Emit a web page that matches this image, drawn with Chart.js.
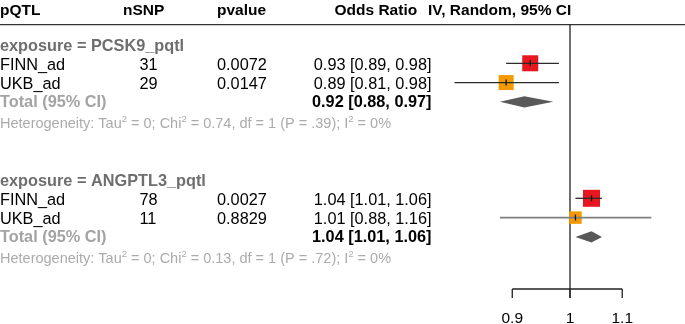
<!DOCTYPE html>
<html><head><meta charset="utf-8">
<script src="https://cdn.jsdelivr.net/npm/chart.js@4/dist/chart.umd.min.js"></script>
<style>html,body{margin:0;padding:0;background:#fff;overflow:hidden}canvas{display:block}</style>
</head><body>
<canvas id="c" width="685" height="324"></canvas>
<script>
// ---------- data ----------
const headers = ["pQTL", "nSNP", "pvalue", "Odds Ratio", "IV, Random, 95% CI"];
const groups = ["exposure = PCSK9_pqtl", "exposure = ANGPTL3_pqtl"];
const studies = ["FINN_ad", "UKB_ad", "FINN_ad", "UKB_ad"];
const studyGroup = [0, 0, 1, 1];
const nSNP = [31, 29, 78, 11];
const pvalues = ["0.0072", "0.0147", "0.0027", "0.8829"];
const orEst = [0.93, 0.89, 1.04, 1.01];
const orLow = [0.89, 0.81, 1.01, 0.88];
const orHigh = [0.98, 0.98, 1.06, 1.16];
const pooledEst = [0.92, 1.04];
const pooledLow = [0.88, 1.01];
const pooledHigh = [0.97, 1.06];
const hetTau2 = ["0", "0"];
const hetChi2 = ["0.74", "0.13"];
const hetDf = ["1", "1"];
const hetP = [".39", ".72"];
const hetI2 = ["0%", "0%"];
const tickValues = [0.9, 1, 1.1];
const tickLabels = ["0.9", "1", "1.1"];
const totalLabel = "Total (95% CI)";

// ---------- styles / layout ----------
const W = 685, H = 324;
const X_AT_ONE = 570, PX_PER_LN = 548;
const ROW_TOP = 24.7, ROW_STEP = 19.29;
const AXIS_Y = 289, TICK_LEN = 9;
const FONT = '"Liberation Sans", Arial, Helvetica, sans-serif';
const FS_HEAD = 15.5, FS = 16.3, FS_HET = 14.5, FS_SUP = 9.5;
const boxSides = [16, 15, 17, 12.5];
const boxColors = ["#E8161E", "#F49A00", "#E8161E", "#F49A00"];
const ciColors = ["#2b2b2b", "#2b2b2b", "#2b2b2b", "#7f7f7f"];
const ciWidths = [1.3, 1.3, 1.3, 1.8];
const DIAMOND_HALF = 5.6;

const xMin = Math.exp(-X_AT_ONE / PX_PER_LN);
const xMax = Math.exp((W - X_AT_ONE) / PX_PER_LN);
const yMin = -ROW_TOP / ROW_STEP;
const yMax = (H - ROW_TOP) / ROW_STEP;

const groupRow = g => 1 + 7 * g;
const studyRows = studies.map((s, i) => {
  const g = studyGroup[i];
  let k = 0;
  for (let j = 0; j < i; j++) if (studyGroup[j] === g) k++;
  return groupRow(g) + 1 + k;
});
const totalRow = g => groupRow(g) + 3;
const hetRow = g => groupRow(g) + 4;

const colX = { pqtl: 0, nsnpH: 123, nsnp: 139.5, pv: 217, orH: 334.5, orR: 431.5, ivH: 428 };

function drawRuns(ctx, x, y, runs, color) {
  ctx.fillStyle = color;
  ctx.textAlign = 'left';
  ctx.textBaseline = 'alphabetic';
  for (const [t, sup] of runs) {
    ctx.font = (sup ? FS_SUP : FS_HET) + 'px ' + FONT;
    ctx.fillText(t, x, sup ? y - 5.5 : y);
    x += ctx.measureText(t).width;
  }
}

const forestPlugin = {
  id: 'forest',
  beforeDatasetsDraw(chart) {
    const ctx = chart.ctx, xs = chart.scales.x, ys = chart.scales.y;
    const rowY = r => ys.getPixelForValue(r);
    const x1 = xs.getPixelForValue(1);
    ctx.save();
    // header line
    ctx.strokeStyle = '#333'; ctx.lineWidth = 1.3;
    ctx.beginPath(); ctx.moveTo(0, ROW_TOP); ctx.lineTo(W, ROW_TOP); ctx.stroke();
    // reference line at 1
    ctx.strokeStyle = '#222';
    ctx.beginPath(); ctx.moveTo(x1, ROW_TOP); ctx.lineTo(x1, AXIS_Y + TICK_LEN); ctx.stroke();
    // bottom axis
    const xa = xs.getPixelForValue(tickValues[0]);
    const xb = xs.getPixelForValue(tickValues[tickValues.length - 1]);
    ctx.beginPath(); ctx.moveTo(xa, AXIS_Y); ctx.lineTo(xb, AXIS_Y); ctx.stroke();
    ctx.font = FS_HEAD + 'px ' + FONT; ctx.fillStyle = '#000';
    ctx.textAlign = 'center'; ctx.textBaseline = 'alphabetic';
    tickValues.forEach((v, i) => {
      const px = xs.getPixelForValue(v);
      ctx.beginPath(); ctx.moveTo(px, AXIS_Y); ctx.lineTo(px, AXIS_Y + TICK_LEN); ctx.stroke();
      ctx.fillText(tickLabels[i], px, 322.5);
    });
    // diamonds
    ctx.fillStyle = '#595959';
    groups.forEach((g, gi) => {
      const y = rowY(totalRow(gi));
      const l = xs.getPixelForValue(pooledLow[gi]);
      const m = xs.getPixelForValue(pooledEst[gi]);
      const r = xs.getPixelForValue(pooledHigh[gi]);
      ctx.beginPath();
      ctx.moveTo(l, y); ctx.lineTo(m, y - DIAMOND_HALF); ctx.lineTo(r, y); ctx.lineTo(m, y + DIAMOND_HALF);
      ctx.closePath(); ctx.fill();
    });
    // text
    ctx.textBaseline = 'alphabetic';
    ctx.font = 'bold ' + FS_HEAD + 'px ' + FONT; ctx.fillStyle = '#000'; ctx.textAlign = 'left';
    const hx = [colX.pqtl, colX.nsnpH, colX.pv, colX.orH, colX.ivH];
    headers.forEach((h, i) => ctx.fillText(h, hx[i], 15));
    const off = 6.6;
    groups.forEach((g, gi) => {
      ctx.font = 'bold ' + FS + 'px ' + FONT; ctx.fillStyle = '#6e6e6e'; ctx.textAlign = 'left';
      ctx.fillText(g, 0, rowY(groupRow(gi)) + off);
      ctx.fillStyle = '#a3a3a3';
      ctx.fillText(totalLabel, 0, rowY(totalRow(gi)) + off - 1);
      ctx.fillStyle = '#000'; ctx.textAlign = 'right';
      ctx.fillText(pooledEst[gi].toFixed(2) + ' [' + pooledLow[gi].toFixed(2) + ', ' + pooledHigh[gi].toFixed(2) + ']', colX.orR, rowY(totalRow(gi)) + off - 1);
      drawRuns(ctx, 0, rowY(hetRow(gi)) + off, [
        ['Heterogeneity: Tau', 0], ['2', 1], [' = ' + hetTau2[gi] + '; Chi', 0], ['2', 1],
        [' = ' + hetChi2[gi] + ', df = ' + hetDf[gi] + ' (P = ' + hetP[gi] + '); I', 0], ['2', 1],
        [' = ' + hetI2[gi], 0]
      ], '#ababab');
    });
    ctx.font = FS + 'px ' + FONT; ctx.fillStyle = '#000';
    studies.forEach((s, i) => {
      const y = rowY(studyRows[i]) + off;
      ctx.textAlign = 'left';
      ctx.fillText(s, colX.pqtl, y);
      ctx.fillText(String(nSNP[i]), colX.nsnp, y);
      ctx.fillText(pvalues[i], colX.pv, y);
      ctx.textAlign = 'right';
      ctx.fillText(orEst[i].toFixed(2) + ' [' + orLow[i].toFixed(2) + ', ' + orHigh[i].toFixed(2) + ']', colX.orR, y);
    });
    ctx.restore();
  }
};

const datasets = [
  { // estimate ticks (drawn on top)
    data: studies.map((s, i) => ({ x: orEst[i], y: studyRows[i] })),
    pointStyle: 'line', pointRotation: 90, pointRadius: 3, borderColor: '#111', borderWidth: 1.3,
    backgroundColor: '#111'
  },
  ...studies.map((s, i) => ({
    data: [{ x: orLow[i], y: studyRows[i] }, { x: orHigh[i], y: studyRows[i] }],
    showLine: true, pointRadius: 0, borderColor: ciColors[i], borderWidth: ciWidths[i], fill: false
  })),
  {
    data: studies.map((s, i) => ({ x: orEst[i], y: studyRows[i] })),
    pointStyle: 'rect', pointRadius: boxSides.map(v => v / Math.SQRT2),
    backgroundColor: boxColors, borderWidth: 0
  }
];

new Chart(document.getElementById('c'), {
  type: 'scatter',
  data: { datasets },
  options: {
    responsive: false, animation: false, events: [],
    layout: { padding: 0, autoPadding: false },
    plugins: { legend: { display: false }, tooltip: { enabled: false } },
    scales: {
      x: { type: 'logarithmic', min: xMin, max: xMax, bounds: 'data', display: false },
      y: { type: 'linear', min: yMin, max: yMax, reverse: true, bounds: 'data', display: false }
    }
  },
  plugins: [forestPlugin]
});
</script>
</body></html>
